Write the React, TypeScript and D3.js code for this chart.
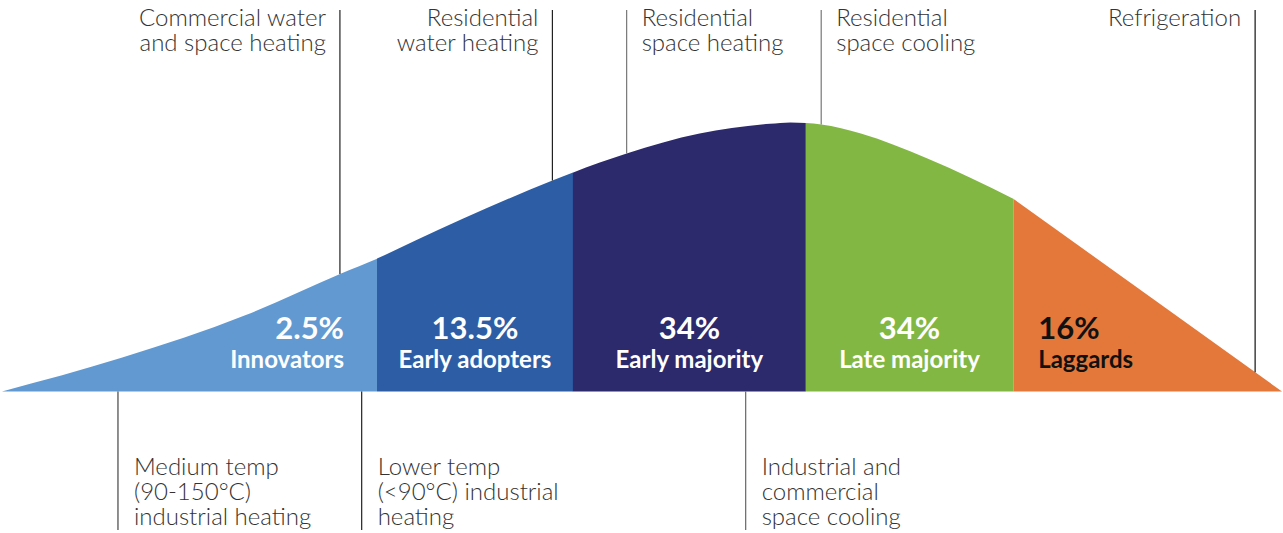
import React from "react";
import * as d3 from "d3";

// Curve sample points (x in 0-100 units along adoption axis, height 0-100)
const curveX = [0, 9.4, 19.0, 26.5, 29.3, 32.3, 43.0, 46.7, 48.8, 54.5, 60.0, 61.6, 62.8, 64.0, 67.1, 72.3, 79.0, 100];
const curveY = [0, 12.6, 28.3, 43.9, 49.4, 56.1, 78.4, 85.1, 88.5, 95.9, 99.5, 100, 99.8, 99.3, 95.9, 86.6, 71.7, 0];
// index from which the tail is a straight line
const tailStart = 16;

// Segment boundaries and labels
const segmentBounds = [0, 29.3, 44.6, 62.8, 79.0, 100];
const segmentPct = ["2.5%", "13.5%", "34%", "34%", "16%"];
const segmentNames = ["Innovators", "Early adopters", "Early majority", "Late majority", "Laggards"];
const segmentColors = ["#6299d1", "#2d5ea5", "#2c296c", "#83b743", "#e3783a"];
const segmentTextColors = ["#ffffff", "#ffffff", "#ffffff", "#ffffff", "#111111"];

// Top annotations
const topAnnoX = [26.4, 43.0, 48.8, 64.0, 97.9];
const topAnnoText = [
  ["Commercial water", "and space heating"],
  ["Residential", "water heating"],
  ["Residential", "space heating"],
  ["Residential", "space cooling"],
  ["Refrigeration"],
];
const topAnnoSide = ["left", "left", "right", "right", "left"];
const topAnnoLineColor = ["#222", "#222", "#777", "#777", "#111"];

// Bottom annotations
const bottomAnnoX = [9.06, 28.1, 58.1];
const bottomAnnoText = [
  ["Medium temp", "(90-150°C)", "industrial heating"],
  ["Lower temp", "(<90°C) industrial", "heating"],
  ["Industrial and", "commercial", "space cooling"],
];
const bottomAnnoLineColor = ["#444", "#222", "#666"];

const W = 1283;
const H = 533;
const FONT = "Lato, 'Open Sans', 'DejaVu Sans', sans-serif";

export default function App() {
  const x = d3.scaleLinear().domain([0, 100]).range([2, 1282]);
  const y = d3.scaleLinear().domain([0, 100]).range([391.5, 122.5]);

  const pts = curveX.map((v, i) => [v, curveY[i]] as [number, number]);
  const smooth = d3
    .area<[number, number]>()
    .x((d) => x(d[0]))
    .y0(y(0))
    .y1((d) => y(d[1]))
    .curve(d3.curveMonotoneX);
  const straight = d3
    .area<[number, number]>()
    .x((d) => x(d[0]))
    .y0(y(0))
    .y1((d) => y(d[1]))
    .curve(d3.curveLinear);
  const headPath = smooth(pts.slice(0, tailStart + 1)) || "";
  const tailPath = straight(pts.slice(tailStart)) || "";

  const heightAt = (u: number) => {
    for (let i = 0; i < curveX.length - 1; i++) {
      if (u >= curveX[i] && u <= curveX[i + 1]) {
        const t = (u - curveX[i]) / (curveX[i + 1] - curveX[i]);
        return curveY[i] + t * (curveY[i + 1] - curveY[i]);
      }
    }
    return 0;
  };

  const textColor = "#333";

  return (
    <svg
      width={W}
      height={H}
      style={{ position: "absolute", left: 0, top: 0, background: "#fff" }}
      fontFamily={FONT}
    >
      <defs>
        {segmentColors.map((_, i) => (
          <clipPath id={`seg${i}`} key={i}>
            <rect
              x={x(segmentBounds[i]) - (i === 0 ? 5 : 0)}
              y={0}
              width={x(segmentBounds[i + 1]) - x(segmentBounds[i]) + (i === 0 || i === 4 ? 5 : 0)}
              height={H}
            />
          </clipPath>
        ))}
      </defs>

      {segmentColors.map((c, i) => (
        <g key={i} clipPath={`url(#seg${i})`} fill={c}>
          <path d={headPath} />
          <path d={tailPath} />
        </g>
      ))}

      {/* top annotation lines */}
      {topAnnoX.map((u, i) => (
        <line
          key={i}
          x1={x(u)}
          x2={x(u)}
          y1={10}
          y2={y(heightAt(u))}
          stroke={topAnnoLineColor[i]}
          strokeWidth={1.2}
        />
      ))}
      {topAnnoX.map((u, i) => {
        const left = topAnnoSide[i] === "left";
        const tx = left ? x(u) - 14 : x(u) + 15;
        return (
          <text
            key={i}
            x={tx}
            y={26}
            textAnchor={left ? "end" : "start"}
            fontSize={24}
            fontWeight={300}
            fill={textColor}
          >
            {topAnnoText[i].map((t, j) => (
              <tspan key={j} x={tx} dy={j === 0 ? 0 : 25}>
                {t}
              </tspan>
            ))}
          </text>
        );
      })}

      {/* bottom annotation lines */}
      {bottomAnnoX.map((u, i) => (
        <line
          key={i}
          x1={x(u)}
          x2={x(u)}
          y1={y(0)}
          y2={530}
          stroke={bottomAnnoLineColor[i]}
          strokeWidth={1.2}
        />
      ))}
      {bottomAnnoX.map((u, i) => {
        const tx = x(u) + 16;
        return (
          <text key={i} x={tx} y={475} fontSize={24} fontWeight={300} fill={textColor}>
            {bottomAnnoText[i].map((t, j) => (
              <tspan key={j} x={tx} dy={j === 0 ? 0 : 25}>
                {t}
              </tspan>
            ))}
          </text>
        );
      })}

      {/* segment labels */}
      {segmentNames.map((name, i) => {
        const x0 = x(segmentBounds[i]);
        const x1 = x(segmentBounds[i + 1]);
        let tx = (x0 + x1) / 2;
        let anchor: "start" | "middle" | "end" = "middle";
        if (i === 0) {
          tx = x1 - 33;
          anchor = "end";
        } else if (i === 4) {
          tx = x0 + 25;
          anchor = "start";
        }
        return (
          <g key={i} fill={segmentTextColors[i]} fontWeight={700} textAnchor={anchor}>
            <text x={tx} y={339} fontSize={31}>
              {segmentPct[i]}
            </text>
            <text x={tx} y={368} fontSize={24}>
              {name}
            </text>
          </g>
        );
      })}
    </svg>
  );
}
